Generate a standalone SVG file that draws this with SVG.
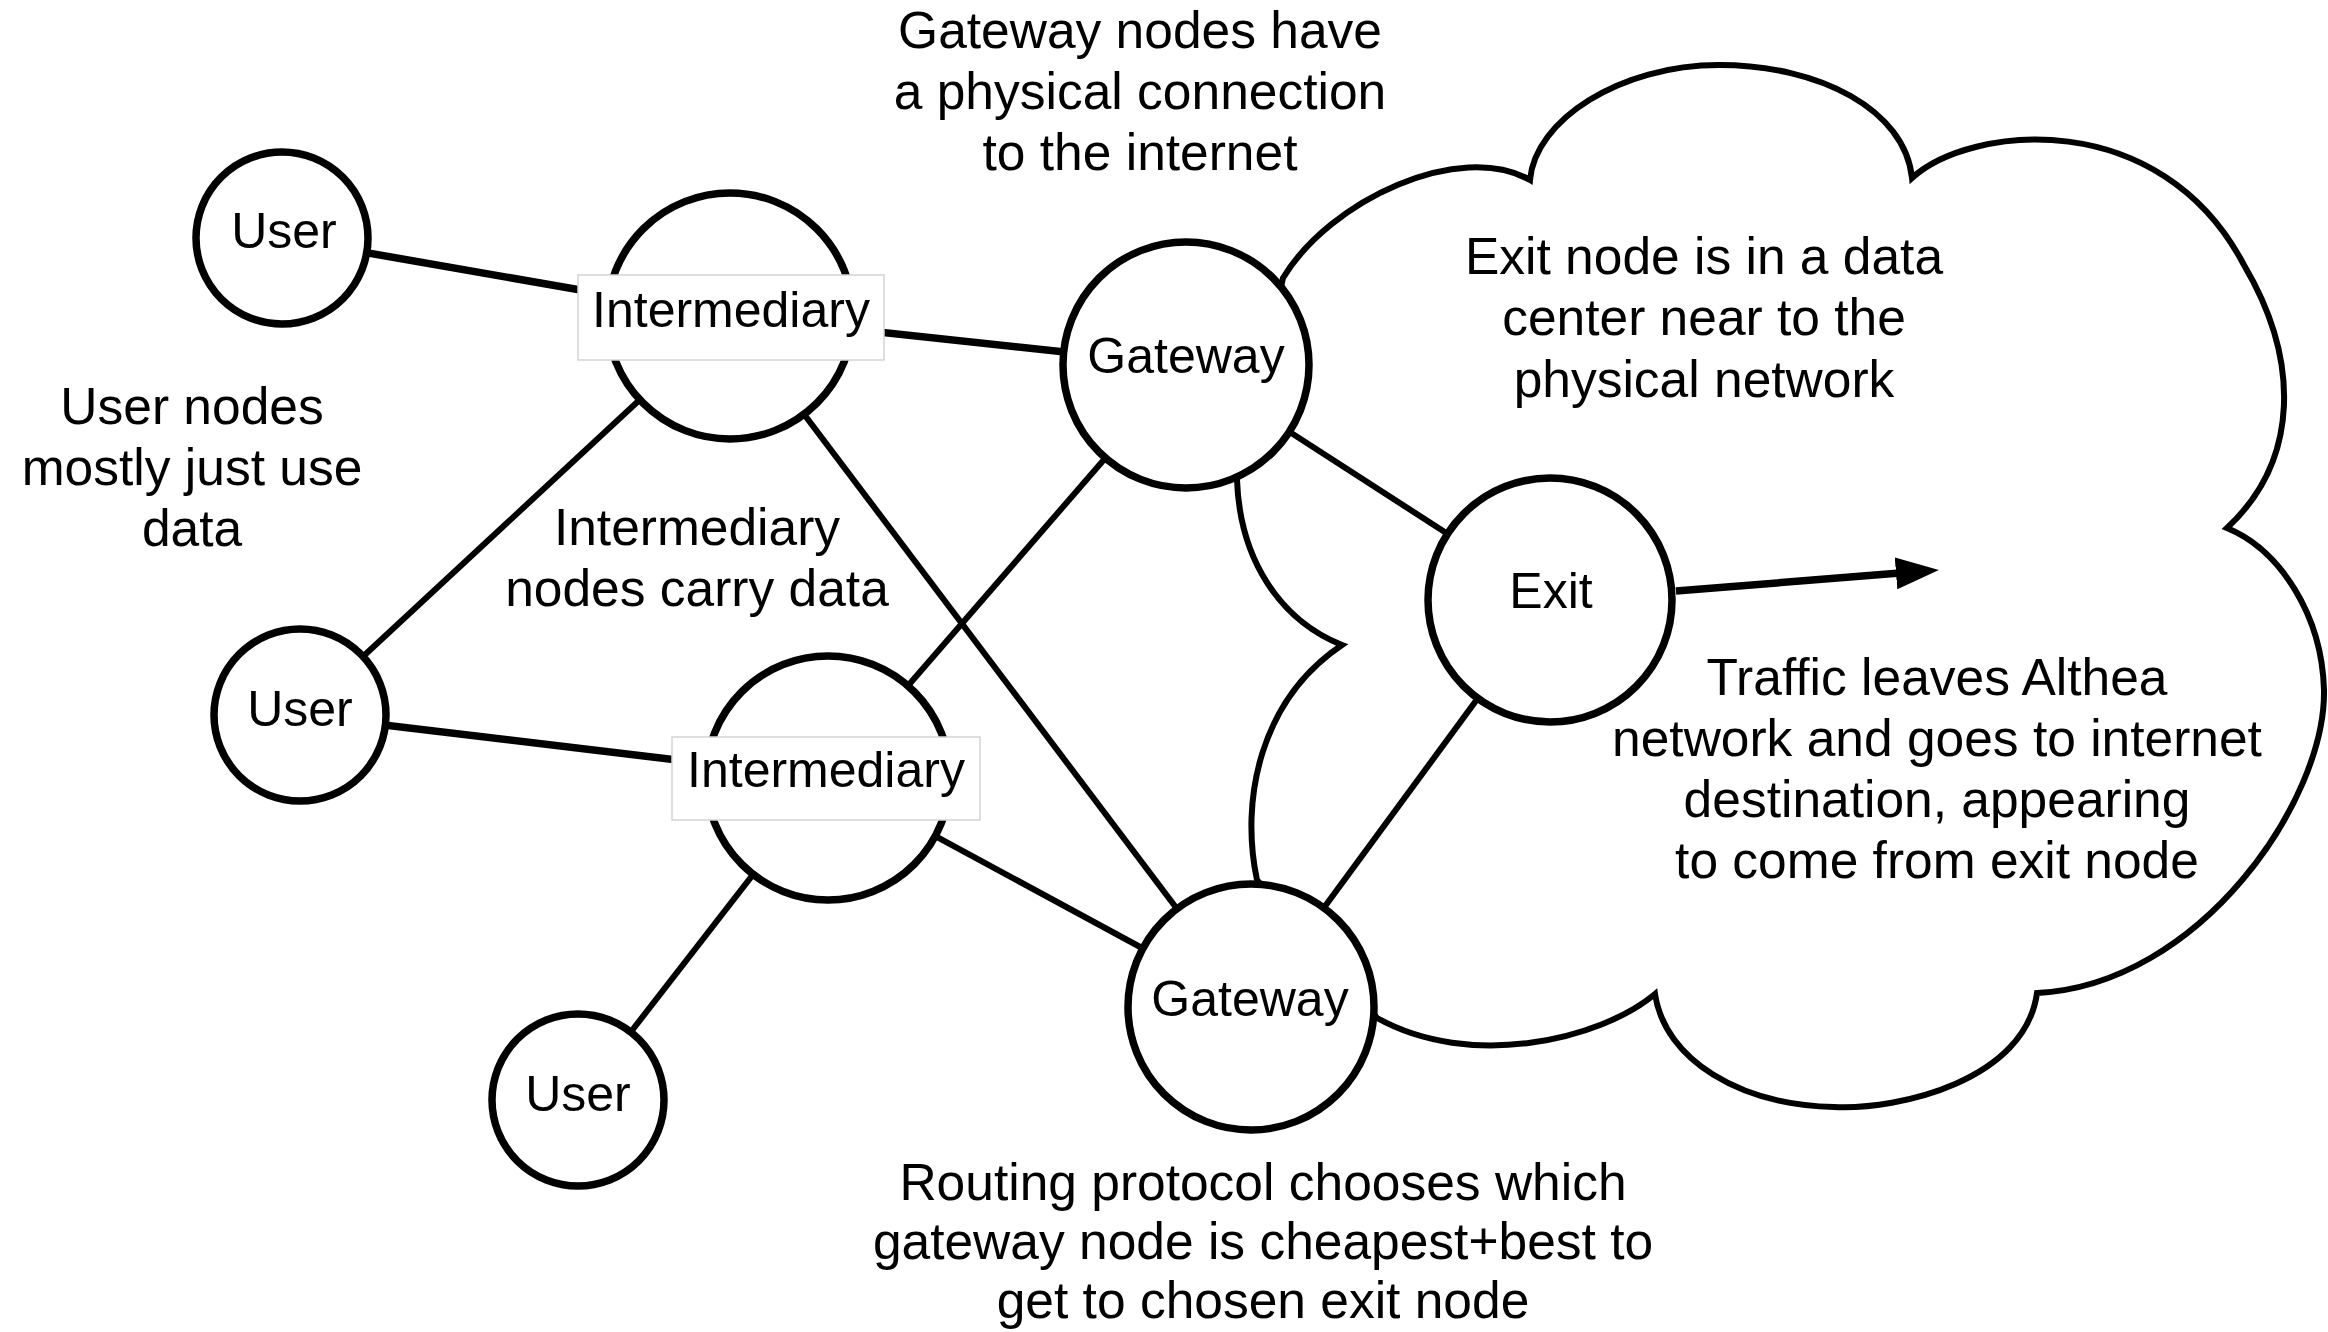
<svg xmlns="http://www.w3.org/2000/svg" width="2328" height="1332" viewBox="0 0 2328 1332">
<style>
.node{fill:#fff;stroke:#000;stroke-width:7.5}
.lbl{fill:#fff;stroke:#d4d4d4;stroke-width:1.5}
.t{font-family:"Liberation Sans",Arial,Helvetica,sans-serif;font-size:50px;fill:#000;text-anchor:middle}
.a{font-family:"Liberation Sans",Arial,Helvetica,sans-serif;font-size:51.5px;fill:#000;text-anchor:middle}
.e{stroke:#000;stroke-width:6;fill:none}
.ek{stroke:#000;stroke-width:7.5;fill:none}
.cloud{fill:#fff;stroke:#000;stroke-width:6;stroke-linejoin:miter}
</style>
<defs>
<marker id="arr" markerUnits="userSpaceOnUse" markerWidth="44" markerHeight="32" refX="4" refY="16" orient="auto">
<path d="M0,0 L43,16 L0,32 Z" fill="#000"/>
</marker>
</defs>
<rect width="2328" height="1332" fill="#fff"/>
<g id="cloud">
<path class="cloud" d="M1283,278 C1330,200 1460,140 1530,180 C1535,120 1620,65 1719,65 C1820,65 1905,110 1912,178 C1970,125 2160,105 2244,265 C2300,360 2300,460 2227,528 C2280,550 2322,615 2324,690 C2326,800 2200,985 2037,993 C2025,1080 1900,1110 1834,1107 C1740,1105 1665,1060 1655,994 C1600,1040 1470,1070 1377,1018 L1257,880 C1240,800 1260,700 1342,645 C1280,620 1240,560 1237,480 Z"/>
</g>
<g id="connectors">
<line class="ek" x1="282" y1="238" x2="730" y2="316"/>
<line class="e" x1="300" y1="715" x2="730" y2="316"/>
<line class="ek" x1="300" y1="715" x2="828" y2="778"/>
<line class="e" x1="578" y1="1100" x2="828" y2="778"/>
<line class="ek" x1="730" y1="316" x2="1186" y2="365"/>
<line class="e" x1="730" y1="316" x2="1251" y2="1007"/>
<line class="e" x1="828" y1="778" x2="1186" y2="365"/>
<line class="e" x1="828" y1="778" x2="1251" y2="1007"/>
<line class="e" x1="1186" y1="365" x2="1550" y2="600"/>
<line class="e" x1="1251" y1="1007" x2="1550" y2="600"/>
<line class="ek" x1="1676" y1="591" x2="1900" y2="573" marker-end="url(#arr)"/>
</g>
<g id="user1"><circle class="node" cx="282" cy="238" r="86"/><text class="t" x="284" y="248">User</text></g>
<g id="user2"><circle class="node" cx="300" cy="715" r="86"/><text class="t" x="300" y="726">User</text></g>
<g id="user3"><circle class="node" cx="578" cy="1100" r="86"/><text class="t" x="578" y="1111">User</text></g>
<g id="intermediary1"><circle class="node" cx="730" cy="316" r="123"/><rect class="lbl" x="578" y="275" width="306" height="85"/><text class="t" x="731" y="327">Intermediary</text></g>
<g id="intermediary2"><circle class="node" cx="828" cy="778" r="122"/><rect class="lbl" x="672" y="737" width="308" height="83"/><text class="t" x="826" y="787">Intermediary</text></g>
<g id="gateway1"><circle class="node" cx="1186" cy="365" r="123"/><text class="t" x="1186" y="373">Gateway</text></g>
<g id="gateway2"><circle class="node" cx="1251" cy="1007" r="123"/><text class="t" x="1250" y="1016">Gateway</text></g>
<g id="exit"><circle class="node" cx="1550" cy="600" r="122"/><text class="t" x="1551" y="608">Exit</text></g>
<g id="notes">
<text class="a" x="1140"><tspan x="1140" y="48">Gateway nodes have</tspan><tspan x="1140" y="109">a physical connection</tspan><tspan x="1140" y="170">to the internet</tspan></text>
<text class="a" x="192"><tspan x="192" y="424">User nodes</tspan><tspan x="192" y="485">mostly just use</tspan><tspan x="192" y="546">data</tspan></text>
<text class="a" x="697"><tspan x="697" y="545">Intermediary</tspan><tspan x="697" y="606">nodes carry data</tspan></text>
<text class="a" x="1704"><tspan x="1704" y="274">Exit node is in a data</tspan><tspan x="1704" y="335">center near to the</tspan><tspan x="1704" y="397">physical network</tspan></text>
<text class="a" x="1937"><tspan x="1937" y="695">Traffic leaves Althea</tspan><tspan x="1937" y="756">network and goes to internet</tspan><tspan x="1937" y="817">destination, appearing</tspan><tspan x="1937" y="878">to come from exit node</tspan></text>
<text class="a" x="1263"><tspan x="1263" y="1200">Routing protocol chooses which</tspan><tspan x="1263" y="1259">gateway node is cheapest+best to</tspan><tspan x="1263" y="1318">get to chosen exit node</tspan></text>
</g>
</svg>
